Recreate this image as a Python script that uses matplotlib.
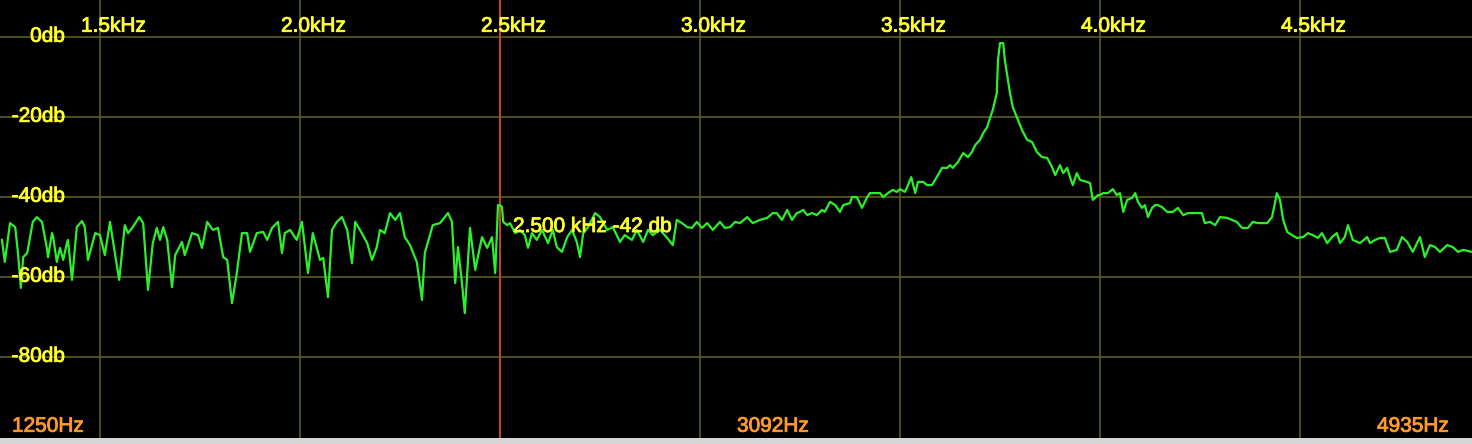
import matplotlib
matplotlib.use('Agg')
import matplotlib.pyplot as plt
from matplotlib import transforms
from matplotlib import patheffects

"""----Data----"""
freqs_hz = [
    1255, 1262, 1275, 1288, 1295, 1302, 1308, 1318, 1332, 1342, 1355, 1368, 1370, 1380, 1383, 1392,
    1400, 1408, 1418, 1420, 1430, 1442, 1455, 1462, 1470, 1488, 1500, 1512, 1525, 1538, 1548, 1562,
    1570, 1582, 1598, 1608, 1620, 1632, 1642, 1650, 1658, 1668, 1680, 1688, 1705, 1712, 1730, 1745,
    1755, 1768, 1782, 1795, 1808, 1818, 1830, 1842, 1855, 1868, 1875, 1892, 1908, 1918, 1930, 1945,
    1955, 1962, 1975, 1992, 2005, 2018, 2020, 2032, 2050, 2058, 2070, 2080, 2092, 2105, 2118, 2130,
    2138, 2150, 2168, 2180, 2192, 2200, 2212, 2225, 2238, 2250, 2262, 2275, 2292, 2305, 2312, 2332,
    2350, 2370, 2380, 2388, 2395, 2405, 2412, 2425, 2438, 2455, 2468, 2480, 2488, 2495,
    2500, 2505, 2508, 2518, 2525, 2538, 2550, 2562, 2570, 2580, 2592, 2605, 2620, 2632, 2642, 2655,
    2668, 2680, 2692, 2700, 2708, 2720, 2738, 2750, 2768, 2782, 2800, 2812, 2830, 2842, 2858, 2870,
    2882, 2900, 2918, 2932, 2942, 2955, 2968, 2980, 2992, 3005, 3018, 3032, 3050, 3062, 3075, 3088,
    3100, 3118, 3132, 3150, 3168, 3182, 3192, 3205, 3218, 3230, 3242,
    3250, 3258, 3268, 3280, 3292, 3305, 3312, 3325, 3338, 3350, 3358, 3375, 3380, 3392, 3405, 3418,
    3425, 3450, 3458, 3470, 3482, 3492, 3500, 3512, 3518, 3528, 3538, 3545, 3558, 3568, 3580, 3592,
    3605, 3618, 3625, 3632, 3645, 3658, 3670, 3680, 3688, 3700, 3708, 3718, 3725, 3732, 3742, 3745,
    3750, 3758, 3762, 3770, 3775, 3782, 3792, 3805, 3818, 3830, 3842, 3855, 3868, 3880, 3888, 3900,
    3908, 3918, 3925, 3932, 3942, 3950, 3968, 3975, 3982, 3995,
    4000, 4008, 4020, 4032, 4042, 4050, 4058, 4068, 4080, 4088, 4095, 4105, 4112, 4120, 4130, 4138,
    4145, 4155, 4168, 4182, 4195, 4208, 4220, 4238, 4255, 4262, 4275, 4288, 4300, 4318, 4330, 4342,
    4355, 4370, 4382, 4395, 4418, 4430, 4438, 4442, 4450, 4458, 4468, 4480, 4492, 4508, 4520, 4532,
    4545, 4555, 4568, 4580, 4592, 4600, 4612, 4620, 4632, 4650, 4668, 4675, 4688, 4700, 4712, 4725,
    4742, 4755, 4768, 4782, 4800, 4812, 4825, 4838, 4850, 4868, 4882, 4895, 4908, 4930,
]
levels_db = [
    -50.6, -56.1, -46.4, -47.4, -53.9, -62.6, -54.9, -53.9, -46.1, -44.9, -46.1, -53.1, -54.9, -48.9, -49.9, -56.1,
    -52.6, -55.6, -51.1, -50.6, -60.6, -47.4, -45.9, -47.4, -55.6, -48.9, -49.4, -54.4, -46.1, -54.4, -60.6, -46.9,
    -48.9, -47.4, -44.9, -46.4, -63.1, -51.4, -47.6, -50.6, -47.4, -50.6, -62.4, -54.4, -51.1, -54.4, -48.9, -49.4,
    -52.6, -46.1, -48.1, -47.6, -54.9, -55.6, -66.4, -58.9, -48.9, -48.9, -53.6, -48.9, -48.6, -50.6, -47.6, -46.1,
    -53.9, -48.9, -48.1, -50.6, -46.1, -57.4, -58.9, -48.9, -55.6, -55.1, -64.9, -48.1, -46.1, -44.9, -48.1, -56.4,
    -46.1, -48.1, -51.4, -55.6, -52.4, -48.1, -48.9, -43.9, -45.6, -43.9, -49.9, -51.9, -56.1, -65.6, -53.9, -46.9,
    -46.4, -43.9, -46.1, -61.4, -52.4, -61.4, -68.9, -47.6, -58.1, -49.9, -52.6, -49.9, -58.9, -41.9,
    -41.9, -42.4, -46.1, -46.9, -46.4, -48.9, -48.1, -49.4, -52.6, -48.9, -50.6, -48.1, -51.4, -48.1, -52.4, -53.6,
    -49.9, -48.1, -51.1, -54.9, -48.9, -47.4, -43.9, -44.9, -48.1, -47.4, -51.1, -49.4, -50.6, -48.1, -51.1, -48.1,
    -49.4, -48.1, -50.1, -51.9, -45.6, -46.4, -47.4, -47.6, -46.1, -47.6, -46.4, -48.1, -46.1, -47.6, -47.4, -46.1,
    -46.4, -44.9, -46.4, -45.6, -45.1, -43.9, -43.9, -45.6, -43.1, -45.6, -43.9,
    -43.6, -43.1, -44.4, -43.9, -44.4, -43.1, -43.6, -41.1, -41.9, -43.6, -41.9, -41.4, -39.9, -39.9, -42.6, -39.9,
    -38.9, -38.9, -39.9, -38.9, -38.1, -38.6, -37.9, -38.6, -37.4, -34.9, -38.9, -36.1, -36.1, -36.9, -36.9, -34.9,
    -32.6, -32.6, -31.9, -32.6, -31.1, -28.9, -29.9, -28.6, -26.9, -25.6, -23.9, -22.4, -20.1, -18.1, -13.9, -5.6,
    -1.4, -1.4, -5.6, -10.6, -13.9, -17.4, -19.9, -23.1, -25.6, -26.1, -28.6, -29.9, -30.1, -32.4, -34.4, -31.9,
    -33.9, -32.6, -34.9, -36.9, -33.9, -35.6, -36.1, -36.4, -40.6, -39.4,
    -39.4, -38.9, -38.9, -37.9, -39.4, -38.9, -43.6, -40.6, -40.1, -38.9, -41.1, -42.6, -41.9, -44.9, -42.6, -41.9,
    -41.9, -42.4, -43.6, -43.6, -42.6, -44.4, -43.9, -43.9, -43.9, -46.4, -46.1, -46.9, -44.9, -45.1, -45.6, -46.1,
    -47.6, -47.6, -46.1, -46.4, -46.4, -44.9, -41.1, -38.9, -40.6, -45.6, -48.6, -49.4, -50.1, -49.9, -48.9, -49.4,
    -50.1, -48.9, -51.4, -49.9, -48.9, -51.4, -49.9, -46.9, -50.6, -51.4, -49.9, -51.4, -50.6, -50.1, -50.1, -53.6,
    -53.1, -49.9, -51.1, -53.6, -49.9, -54.9, -51.9, -52.4, -53.6, -51.9, -52.4, -53.6, -53.1, -53.6,
]

freq_ticks = [1500, 2000, 2500, 3000, 3500, 4000, 4500]
freq_labels = ['1.5kHz', '2.0kHz', '2.5kHz', '3.0kHz', '3.5kHz', '4.0kHz', '4.5kHz']
db_ticks = [0, -20, -40, -60, -80]
db_labels = ['0db', '-20db', '-40db', '-60db', '-80db']
span_labels = ['1250Hz', '3092Hz', '4935Hz']
cursor_freq = 2500
cursor_db = -42
cursor_label = '2.500 kHz -42 db'

"""----Style----"""
plt.rcParams['font.family'] = ['Liberation Sans', 'DejaVu Sans']
YELLOW = '#ffff2e'
ORANGE = '#ff9a2a'
GRID = '#5c5c22'
TRACE = '#2cf02c'
CURSOR = '#d4401e'
FS = 15


def label(ax, x, y, s, color, tr, ha):
    # thin stroke in the text colour to mimic the heavier screen rendering
    ax.text(x, y, s, transform=tr, ha=ha, va='baseline', color=color, fontsize=FS, zorder=5,
            path_effects=[patheffects.withStroke(linewidth=0.6, foreground=color)])


def main():
    fig = plt.figure(figsize=(14.72, 4.44), dpi=100, facecolor='#d6d6d6')
    ax = fig.add_axes([0, 6.5 / 444, 1, 437.5 / 444])
    ax.set_facecolor('black')
    ax.set_xlim(1250, 4930)
    ax.set_ylim(-100, 9.375)
    for s in ax.spines.values():
        s.set_visible(False)
    ax.set_xticks([]), ax.set_yticks([])

    for f in freq_ticks:
        ax.axvline(f, color=GRID, lw=1.2, zorder=1)
    for d in db_ticks:
        ax.axhline(d, color=GRID, lw=1.2, zorder=1)
    ax.axvline(cursor_freq, color=CURSOR, lw=1.3, zorder=2)

    ax.plot(freqs_hz, levels_db, color=TRACE, lw=1.6, zorder=3)

    # db labels on the left, right aligned
    ylab_tr = transforms.offset_copy(ax.transData, fig, x=65, y=-4.3, units='dots')
    for d, lab in zip(db_ticks, db_labels):
        label(ax, ax.get_xlim()[0], d, lab, YELLOW, ylab_tr, 'right')

    # frequency labels along the top
    xlab_tr = transforms.offset_copy(ax.get_xaxis_transform(), fig, x=-19, units='dots')
    for f, lab in zip(freq_ticks, freq_labels):
        label(ax, f, 1 - 31.7 / 437.5, lab, YELLOW, xlab_tr, 'left')

    # span labels along the bottom
    yb = 1 - 431.7 / 437.5
    label(ax, 12 / 1472, yb, span_labels[0], ORANGE, ax.transAxes, 'left')
    label(ax, 0.5 + 1 / 1472, yb, span_labels[1], ORANGE, ax.transAxes, 'left')
    label(ax, 1 - 23 / 1472, yb, span_labels[2], ORANGE, ax.transAxes, 'right')

    # cursor readout
    cur_tr = transforms.offset_copy(ax.transData, fig, x=13, y=-26.5, units='dots')
    label(ax, cursor_freq, cursor_db, cursor_label, YELLOW, cur_tr, 'left')

    fig.savefig('out.png', dpi=100, facecolor=fig.get_facecolor())


if __name__ == '__main__':
    main()
